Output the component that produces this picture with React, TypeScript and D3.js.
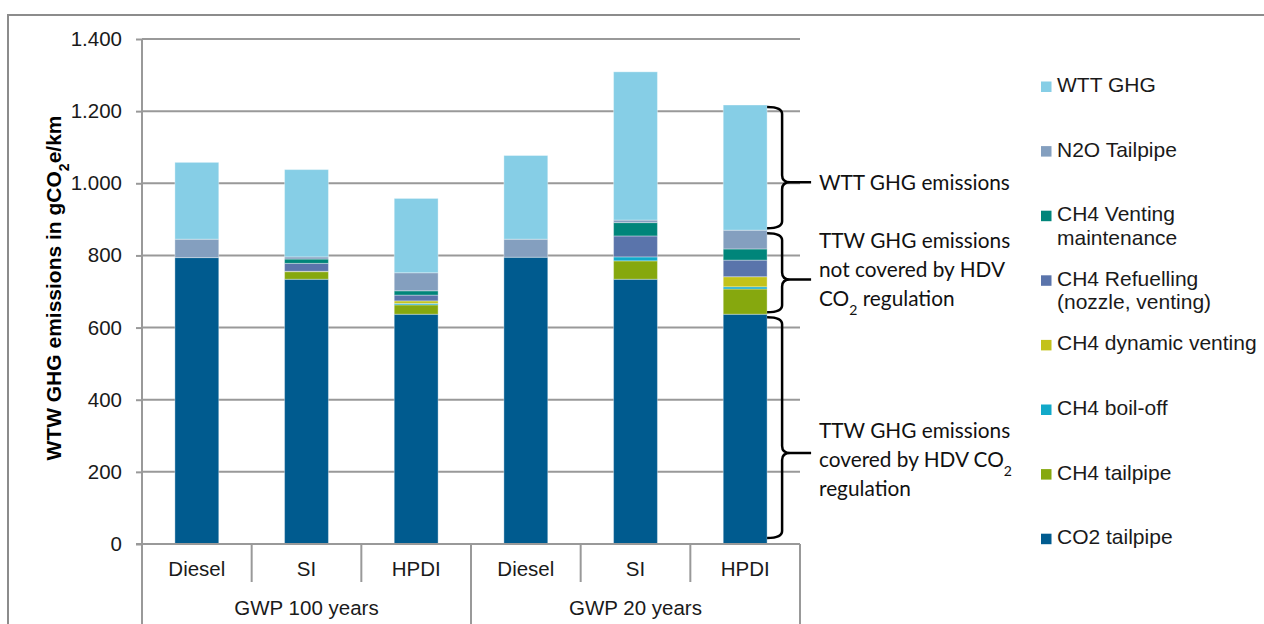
import React, { useEffect, useRef } from 'react';
import * as d3 from 'd3';

// Bars, left to right
const CATEGORIES = ['Diesel', 'SI', 'HPDI', 'Diesel', 'SI', 'HPDI'];
const GROUPS = ['GWP 100 years', 'GWP 20 years'];

// gCO2e/km per segment, stacked bottom to top
const CO2_TAILPIPE = [794, 734, 637, 795, 734, 637];
const CH4_TAILPIPE = [0, 21, 26, 0, 51, 70];
const CH4_BOIL_OFF = [0, 0, 4, 0, 11, 6];
const CH4_DYNAMIC_VENTING = [0, 1, 7, 0, 0, 28];
const CH4_REFUELLING = [0, 22, 16, 0, 58, 46];
const CH4_VENTING_MAINT = [0, 12, 12, 0, 37, 31];
const N2O_TAILPIPE = [51, 6, 50, 50, 7, 52];
const WTT_GHG = [213, 242, 206, 232, 411, 347];

const Y_TICKS = [0, 200, 400, 600, 800, 1000, 1200, 1400];

const SERIES = [
  { key: 'co2', label: ['CO2 tailpipe'], color: '#005b8f', values: CO2_TAILPIPE },
  { key: 'ch4tp', label: ['CH4 tailpipe'], color: '#86a80e', values: CH4_TAILPIPE },
  { key: 'boil', label: ['CH4 boil-off'], color: '#12a9c9', values: CH4_BOIL_OFF },
  { key: 'dyn', label: ['CH4 dynamic venting'], color: '#c3c21a', values: CH4_DYNAMIC_VENTING },
  { key: 'refuel', label: ['CH4 Refuelling', '(nozzle, venting)'], color: '#5a74ab', values: CH4_REFUELLING },
  { key: 'maint', label: ['CH4 Venting', 'maintenance'], color: '#00857a', values: CH4_VENTING_MAINT },
  { key: 'n2o', label: ['N2O Tailpipe'], color: '#849fbf', values: N2O_TAILPIPE },
  { key: 'wtt', label: ['WTT GHG'], color: '#86cee6', values: WTT_GHG }
];

const FONT = 'Liberation Sans, Arial, sans-serif';
const NOTE_FONT = 'Lato, Calibri, sans-serif';

export default function App () {
  const ref = useRef<SVGSVGElement>(null);

  useEffect(() => {
    const svg = d3.select(ref.current);
    svg.selectAll('*').remove();

    const left = 142, right = 800, top = 39, bottom = 544;

    const x = d3.scaleBand().domain(CATEGORIES.map((c, i) => i + '')).range([left, right]);
    const y = d3.scaleLinear().domain([0, 1400]).range([bottom, top]);
    const fmt = d3.formatLocale({ decimal: ',', thousands: '.', grouping: [3], currency: ['', ''] }).format(',d');

    // outer frame
    svg.append('rect')
      .attr('x', 8).attr('y', 15).attr('width', 1300).attr('height', 700)
      .attr('fill', 'none').attr('stroke', '#8c8c8c').attr('stroke-width', 2);

    // gridlines
    svg.append('g').selectAll('line').data(Y_TICKS.slice(1)).enter().append('line')
      .attr('x1', left).attr('x2', right)
      .attr('y1', d => y(d)).attr('y2', d => y(d))
      .attr('stroke', '#999').attr('stroke-width', 2);

    // y axis
    const yAxis = svg.append('g')
      .attr('transform', `translate(${left},0)`)
      .call(d3.axisLeft(y).tickValues(Y_TICKS).tickFormat(d => fmt(d as number)).tickSize(6).tickPadding(14));
    yAxis.select('.domain').remove();
    yAxis.selectAll('line').attr('stroke', '#999').attr('stroke-width', 2);
    yAxis.selectAll('text').attr('font-family', FONT).attr('font-size', 20.5).attr('fill', '#1a1a1a');
    svg.append('line')
      .attr('x1', left).attr('x2', left).attr('y1', top).attr('y2', 624)
      .attr('stroke', '#999').attr('stroke-width', 2);

    // y title
    const title = svg.append('text')
      .attr('transform', `translate(61,${(113 + 463) / 2}) rotate(-90)`)
      .attr('text-anchor', 'middle')
      .attr('font-family', FONT).attr('font-weight', 'bold').attr('font-size', 21)
      .attr('fill', '#000');
    title.append('tspan').text('WTW GHG emissions in gCO');
    title.append('tspan').attr('baseline-shift', 'sub').attr('font-size', 14).text('2');
    title.append('tspan').text('e/km');

    // stacked bars
    const rows = CATEGORIES.map((c, i) => {
      const r: any = { i: i + '' };
      SERIES.forEach(s => { r[s.key] = s.values[i]; });
      return r;
    });
    const stack = d3.stack().keys(SERIES.map(s => s.key))(rows);
    const bw = x.bandwidth() * 0.4;

    svg.append('g').selectAll('g').data(stack).enter().append('g')
      .attr('fill', (d, i) => SERIES[i].color)
      .selectAll('rect').data(d => d).enter().append('rect')
      .filter(d => d[1] - d[0] > 0)
      .attr('x', d => x(d.data.i as string)! + (x.bandwidth() - bw) / 2)
      .attr('width', bw)
      .attr('y', d => y(d[1]))
      .attr('height', d => y(d[0]) - y(d[1]))
      .attr('stroke', 'rgba(255,255,255,0.35)').attr('stroke-width', 1);

    // category axis
    svg.append('line')
      .attr('x1', left - 6).attr('x2', right).attr('y1', bottom).attr('y2', bottom)
      .attr('stroke', '#999').attr('stroke-width', 2);
    CATEGORIES.forEach((c, i) => {
      const x0 = x(i + '')!;
      if (i > 0) {
        svg.append('line')
          .attr('x1', x0).attr('x2', x0).attr('y1', bottom).attr('y2', i % 3 === 0 ? 624 : 582)
          .attr('stroke', '#999').attr('stroke-width', 2);
      }
      svg.append('text')
        .attr('x', x0 + x.bandwidth() / 2).attr('y', 576)
        .attr('text-anchor', 'middle')
        .attr('font-family', FONT).attr('font-size', 20.5).attr('fill', '#1a1a1a')
        .text(c);
    });
    svg.append('line')
      .attr('x1', right).attr('x2', right).attr('y1', bottom).attr('y2', 624)
      .attr('stroke', '#999').attr('stroke-width', 2);
    GROUPS.forEach((g, gi) => {
      svg.append('text')
        .attr('x', x(gi * 3 + '')! + x.bandwidth() * 1.5).attr('y', 615)
        .attr('text-anchor', 'middle')
        .attr('font-family', FONT).attr('font-size', 20.5).attr('fill', '#1a1a1a')
        .text(g);
    });

    // braces along the last bar
    const last = CATEGORIES.length - 1;
    const stackTop = (k: number) => stack[k][last][1];
    const xb0 = x(last + '')! + (x.bandwidth() + bw) / 2;
    const xb1 = xb0 + 15, xb2 = xb0 + 44;
    const braces = [
      { y0: y(stackTop(7)) + 2, y1: y(stackTop(6)) - 2, f: 0.62, lines: [['WTT GHG emissions']], ty: 190 },
      { y0: y(stackTop(6)) + 3, y1: y(stackTop(0)) - 2, f: 0.585, lines: [['TTW GHG emissions'], ['not covered by HDV'], ['CO', '2', ' regulation']], ty: 248 },
      { y0: y(stackTop(0)) + 3, y1: y(0) - 6, f: 0.615, lines: [['TTW GHG emissions'], ['covered by HDV CO', '2'], ['regulation']], ty: 438 }
    ];
    const r = 7;
    braces.forEach(b => {
      const ym = b.y0 + (b.y1 - b.y0) * b.f;
      const p = d3.path();
      p.moveTo(xb0, b.y0);
      p.quadraticCurveTo(xb1, b.y0, xb1, b.y0 + r);
      p.lineTo(xb1, ym - r);
      p.quadraticCurveTo(xb1, ym, xb1 + 8, ym);
      p.lineTo(xb2, ym);
      p.moveTo(xb1 + 8, ym);
      p.quadraticCurveTo(xb1, ym, xb1, ym + r);
      p.lineTo(xb1, b.y1 - r);
      p.quadraticCurveTo(xb1, b.y1, xb0, b.y1);
      svg.append('path').attr('d', p.toString())
        .attr('fill', 'none').attr('stroke', '#000').attr('stroke-width', 2.5);

      b.lines.forEach((ln, li) => {
        const t = svg.append('text')
          .attr('x', 819).attr('y', b.ty + li * 29)
          .attr('font-family', NOTE_FONT).attr('font-size', 20.8).attr('fill', '#111');
        ln.forEach(part => {
          const ts = t.append('tspan').text(part);
          if (part === '2') ts.attr('baseline-shift', 'sub').attr('font-size', 14);
        });
      });
    });

    // legend, top entry is the top segment
    const legend = SERIES.slice().reverse();
    legend.forEach((s, i) => {
      const ly = 92 + i * 64.6;
      svg.append('rect')
        .attr('x', 1041).attr('y', ly - 10.5).attr('width', 10.5).attr('height', 10.5)
        .attr('fill', s.color);
      s.label.forEach((t, li) => {
        svg.append('text')
          .attr('x', 1057).attr('y', ly + li * 23.5)
          .attr('font-family', FONT).attr('font-size', 21).attr('fill', '#1a1a1a')
          .text(t);
      });
    });
  }, []);

  return (
    <svg ref={ref} width={1264} height={624}
      style={{ position: 'absolute', left: 0, top: 0, background: '#fff' }} />
  );
}
